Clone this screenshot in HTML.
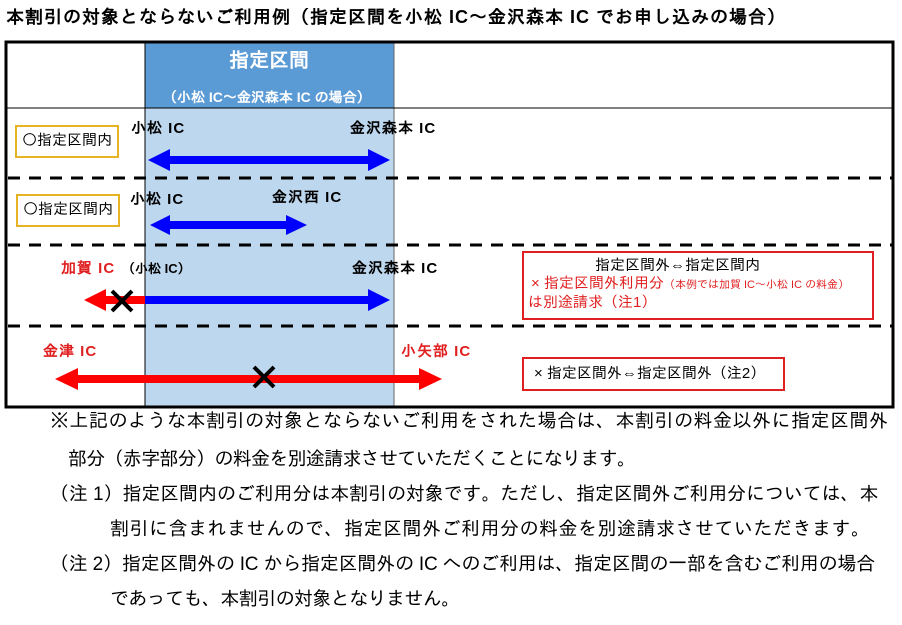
<!DOCTYPE html>
<html><head><meta charset="utf-8"><style>
body{margin:0;width:902px;height:625px;background:#fff;position:relative;overflow:hidden;font-family:"Liberation Sans","IPAGothic","Noto Sans CJK JP",sans-serif;}
.a{position:absolute;white-space:nowrap;}
.b{font-weight:bold;}
.t{font-size:19px;letter-spacing:0.5px;color:#000;}
</style></head><body>
<div class="a b" style="left:6px;top:7px;font-size:18px;letter-spacing:1px;">本割引の対象とならないご利用例（指定区間を小松 IC～金沢森本 IC でお申し込みの場合）</div>
<svg class="a" style="left:0;top:0" width="902" height="625">
<rect x="145" y="43" width="249" height="65" fill="#5b9bd5"/>
<rect x="145" y="108" width="249" height="298" fill="#bdd7ee"/>
<line x1="145" y1="43" x2="145" y2="406" stroke="#000" stroke-width="1"/>
<line x1="394" y1="43" x2="394" y2="406" stroke="#666" stroke-width="1"/>
<line x1="6" y1="108" x2="892" y2="108" stroke="#000" stroke-width="1"/>
<g stroke="#000" stroke-width="3" stroke-dasharray="12,9">
<line x1="8" y1="178" x2="892" y2="178"/><line x1="8" y1="245" x2="892" y2="245"/><line x1="8" y1="326" x2="892" y2="326"/></g>
<rect x="6" y="42" width="887" height="365" fill="none" stroke="#000" stroke-width="3"/>
<rect x="16" y="126" width="102" height="31" fill="#fff" stroke="#e6b422" stroke-width="2"/>
<rect x="17" y="195" width="102" height="31" fill="#fff" stroke="#e6b422" stroke-width="2"/>
<rect x="523" y="252" width="350" height="67" fill="#fff" stroke="#e02020" stroke-width="2"/>
<rect x="523" y="358" width="261" height="32" fill="#fff" stroke="#e02020" stroke-width="2"/>
<g fill="#0000ff">
<polygon points="148,160 170,149 170,156 368,156 368,149 390,160 368,171 368,164 170,164 170,171"/>
<polygon points="150,225 170,215 170,221 286,221 286,215 307,225 286,235 286,229 170,229 170,235"/>
<polygon points="145,296 368,296 368,289 390,300 368,311 368,304 145,304"/>
</g>
<polygon fill="#ff0000" points="84,300 106,289 106,296 145,296 145,304 106,304 106,311"/>
<polygon fill="#ff0000" points="55,379 78,368 78,375 419,375 419,368 442,379 419,390 419,383 78,383 78,390"/>
<g stroke="#000" stroke-width="4"><line x1="112" y1="291" x2="132" y2="311"/><line x1="132" y1="291" x2="112" y2="311"/>
<line x1="254" y1="367" x2="274" y2="387"/><line x1="274" y1="367" x2="254" y2="387"/></g>
</svg>
<div class="a b" style="left:229px;top:50px;font-size:20px;color:#fff;">指定区間</div>
<div class="a b" style="left:163px;top:89px;font-size:14px;color:#fff;">（小松 IC～金沢森本 IC の場合）</div>
<div class="a" style="left:22px;top:132px;font-size:15px;">〇指定区間内</div>
<div class="a" style="left:23px;top:201px;font-size:15px;">〇指定区間内</div>
<div class="a b" style="left:131px;top:120px;font-size:15px;letter-spacing:1px;">小松 IC</div>
<div class="a b" style="left:350px;top:120px;font-size:15px;letter-spacing:1px;">金沢森本 IC</div>
<div class="a b" style="left:130px;top:191px;font-size:15px;letter-spacing:1px;">小松 IC</div>
<div class="a b" style="left:272px;top:189px;font-size:15px;letter-spacing:1px;">金沢西 IC</div>
<div class="a b" style="left:61px;top:260px;font-size:15px;letter-spacing:1px;color:#e02020;">加賀 IC</div>
<div class="a b" style="left:122px;top:261px;font-size:13px;">（小松 IC）</div>
<div class="a b" style="left:352px;top:260px;font-size:15px;letter-spacing:1px;">金沢森本 IC</div>
<div class="a b" style="left:43px;top:343px;font-size:15px;letter-spacing:1px;color:#e02020;">金津 IC</div>
<div class="a b" style="left:401px;top:343px;font-size:15px;letter-spacing:1px;color:#e02020;">小矢部 IC</div>
<div class="a" style="left:595px;top:257px;font-size:15px;">指定区間外⇔指定区間内</div>
<div class="a" style="left:531px;top:275px;font-size:15px;color:#e02020;">× 指定区間外利用分<span style="font-size:11px;">（本例では加賀 IC～小松 IC の料金）</span></div>
<div class="a" style="left:528px;top:294px;font-size:15px;color:#e02020;">は別途請求（注1）</div>
<div class="a" style="left:534px;top:365px;font-size:15px;">× 指定区間外⇔指定区間外（注2）</div>
<div class="a t" style="left:50px;top:411px;">※上記のような本割引の対象とならないご利用をされた場合は、本割引の料金以外に指定区間外</div>
<div class="a t" style="left:68px;top:449px;letter-spacing:-0.7px;">部分（赤字部分）の料金を別途請求させていただくことになります。</div>
<div class="a t" style="left:50px;top:484px;letter-spacing:-0.1px;">（注 1）指定区間内のご利用分は本割引の対象です。ただし、指定区間外ご利用分については、本</div>
<div class="a t" style="left:110px;top:519px;">割引に含まれませんので、指定区間外ご利用分の料金を別途請求させていただきます。</div>
<div class="a t" style="left:50px;top:554px;letter-spacing:-0.2px;">（注 2）指定区間外の IC から指定区間外の IC へのご利用は、指定区間の一部を含むご利用の場合</div>
<div class="a t" style="left:110px;top:589px;letter-spacing:-0.6px;">であっても、本割引の対象となりません。</div>
</body></html>
